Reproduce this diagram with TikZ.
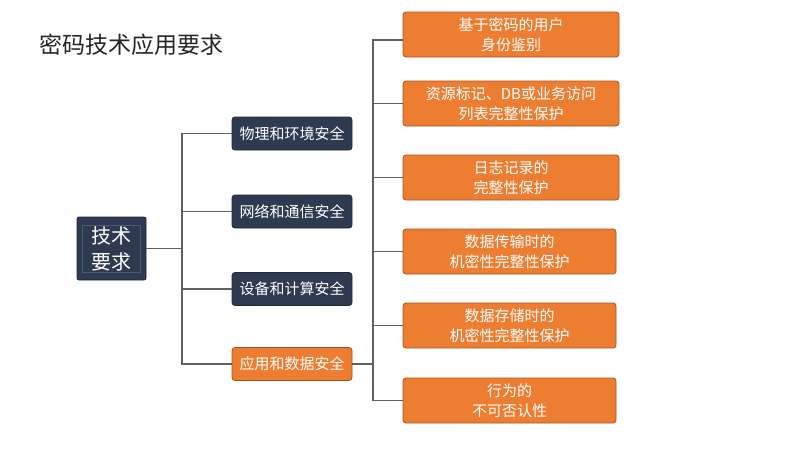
\documentclass[tikz,border=0pt]{standalone}
\usepackage{fontspec}
\setmainfont{Noto Sans CJK SC}
\usetikzlibrary{calc}
\definecolor{navy}{HTML}{2E3A50}
\definecolor{navyline}{HTML}{1E2838}
\definecolor{navyin}{HTML}{4C5A74}
\definecolor{org}{HTML}{ED7D31}
\definecolor{orgline}{HTML}{A9531F}
\definecolor{conn}{HTML}{606060}
\begin{document}
\begin{tikzpicture}[x=1pt,y=-1pt]
\tikzset{
  darkbox/.style={draw=navyline,fill=navy,rounded corners=3pt,line width=0.8pt,text=white,
    minimum width=120pt,minimum height=33pt,inner sep=0pt,font=\fontsize{15}{18}\selectfont},
  orgbox/.style={draw=orgline,fill=org,rounded corners=3pt,line width=0.8pt,text=white,
    minimum width=216pt,minimum height=45pt,inner sep=0pt,align=center,font=\fontsize{15}{20}\selectfont},
  orgsub/.style={orgbox,minimum width=120pt,minimum height=33pt,font=\fontsize{15}{18}\selectfont},
  mainbox/.style={draw=navyline,fill=navy,rounded corners=2pt,line width=0.8pt,text=white,
    minimum width=69pt,minimum height=63pt,inner sep=0pt,align=center,font=\fontsize{20}{26}\selectfont},
  link/.style={draw=conn,line width=1.1pt}
}
\useasboundingbox (0,0) rectangle (801,451);
\fill[white] (0,0) rectangle (801,451);
\node[anchor=west,inner sep=0pt,text=black!85,font=\fontsize{23}{26}\selectfont] (title) at (39,45) {密码技术应用要求};

\node[mainbox] (main) at (111.5,248.5) {技术\\要求};
\draw[navyin,line width=0.8pt] ($(main.north west)+(6,9)$) rectangle ($(main.south east)+(-6,-8)$);

\node[darkbox] (s1) at (292,133.5) {物理和环境安全};
\node[darkbox] (s2) at (292,211.5) {网络和通信安全};
\node[darkbox] (s3) at (292,289) {设备和计算安全};
\node[orgsub] (s4) at (292,364) {应用和数据安全};

\coordinate (j1) at (182,248.5);
\draw[link] (main.east) -- (j1);
\draw[link] (s1.west) -| (j1) |- (s4.west);
\draw[link] (s2.west) -- (s2.west -| j1);
\draw[link] (s3.west) -- (s3.west -| j1);

\node[orgbox] (r1) at (511,34.5) {基于密码的用户\\身份鉴别};
\node[orgbox] (r2) at (511,103.5) {资源标记、DB或业务访问\\列表完整性保护};
\node[orgbox] (r3) at (511,177.5) {日志记录的\\完整性保护};
\node[orgbox,minimum width=213pt] (r4) at (509.5,251.5) {数据传输时的\\机密性完整性保护};
\node[orgbox,minimum width=213pt] (r5) at (509.5,325.5) {数据存储时的\\机密性完整性保护};
\node[orgbox,minimum width=213pt] (r6) at (509.5,400.5) {行为的\\不可否认性};

\coordinate (j2) at (373,364);
\coordinate (t1) at ([yshift=-5.5pt]r1.west);
\draw[link] (s4.east) -- (j2);
\draw[link] (t1) -| (j2) |- (r6.west);
\draw[link] (r2.west) -- (r2.west -| j2);
\draw[link] (r3.west) -- (r3.west -| j2);
\draw[link] (r4.west) -- (r4.west -| j2);
\draw[link] (r5.west) -- (r5.west -| j2);
\end{tikzpicture}
\end{document}
